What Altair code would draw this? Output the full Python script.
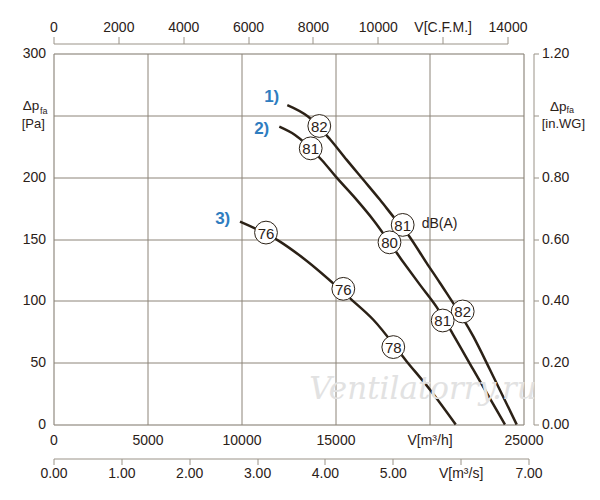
import altair as alt
import pandas as pd

# Curve traces (V in m3/h, dp in Pa)
c1_v = [12436, 13553, 14707, 15596, 16479, 17367, 18074, 18872, 19851, 20559, 22330, 23218, 24638]
c1_p = [258.3, 248.9, 230.7, 214.0, 197.9, 181.7, 168.1, 153.3, 130.5, 114.4, 71.2, 44.3, 0]
c2_v = [12011, 12846, 14266, 15064, 16128, 17011, 18521, 19495, 20383, 21266, 22330, 24016]
c2_p = [240.8, 234.1, 213.9, 199.6, 181.6, 165.4, 133.1, 112.9, 94.9, 72.5, 44.3, 0]
c3_v = [9920, 12048, 13287, 15862, 17011, 18787, 20027, 21394]
c3_p = [164.1, 147.9, 134.5, 100.8, 84.7, 51.0, 28.1, 0]

# Sound level markers
db_curve = ["1", "1", "1", "2", "2", "2", "3", "3", "3"]
db_v = [14138, 18574, 21766, 13681, 17872, 20702, 11303, 15415, 18074]
db_p = [241.4, 161.4, 91.4, 223.3, 147.3, 84.1, 155.2, 109.7, 62.6]
db_txt = ["82", "81", "82", "81", "80", "81", "76", "76", "78"]

# Curve labels
lab_txt = ["1)", "2)", "3)"]
lab_v = [11606, 11074, 9000]
lab_p = [264.5, 238.7, 166.0]

# Axis tick values
x_ticks = [0, 5000, 10000, 15000, 20000, 25000]
y_ticks = [0, 50, 100, 150, 200, 250, 300]
cfm_ticks = [0, 2000, 4000, 6000, 8000, 10000, 12000, 14000]
ms_ticks = [0, 1, 2, 3, 4, 5, 6, 7]
wg_ticks = [0, 0.2, 0.4, 0.6, 0.8, 1.0, 1.2]

DARK = "#2b2116"
GRID = "#8c8478"
AXG = "#9a9388"
TXT = "#2b2118"
BLUE = "#2f7dc0"
FONT = "Liberation Sans"
LBL = dict(labelFont=FONT, labelFontSize=14, labelColor=TXT, labelFlush=False, labelOverlap=False)

rows = []
for name, vs, ps in (("1", c1_v, c1_p), ("2", c2_v, c2_p), ("3", c3_v, c3_p)):
    for v, p in zip(vs, ps):
        rows.append({"curve": name, "V": v, "p": p})
curves_df = pd.DataFrame(rows)
db_df = pd.DataFrame({"curve": db_curve, "V": db_v, "p": db_p, "t": db_txt})
lab_df = pd.DataFrame({"V": lab_v, "p": lab_p, "t": lab_txt})

xs = alt.Scale(domain=[0, 25000], nice=False)
ys = alt.Scale(domain=[0, 300], nice=False)

x_axis = alt.Axis(orient="bottom", values=x_ticks, format="d", grid=True, gridColor=GRID,
                  gridWidth=1, ticks=False, domain=False, labelPadding=9, title=None,
                  labelExpr="datum.value == 20000 ? 'V[m³/h]' : datum.label", **LBL)
y_axis = alt.Axis(orient="left", values=y_ticks, format="d", grid=True, gridColor=GRID,
                  gridWidth=1, ticks=False, domain=False, labelPadding=8, title=None,
                  labelExpr="datum.value == 250 ? '' : datum.label", **LBL)

base = alt.Chart(curves_df)
lines = base.mark_line(color=DARK, strokeWidth=2.5, interpolate="monotone").encode(
    x=alt.X("V:Q", scale=xs, axis=x_axis),
    y=alt.Y("p:Q", scale=ys, axis=y_axis),
    detail="curve:N",
)
circles = alt.Chart(db_df).mark_circle(size=520, fill="white", stroke=DARK, strokeWidth=1, opacity=1).encode(
    x=alt.X("V:Q", scale=xs), y=alt.Y("p:Q", scale=ys))
circ_txt = alt.Chart(db_df).mark_text(fontSize=15, font=FONT, color=TXT, baseline="middle", dy=1).encode(
    x=alt.X("V:Q", scale=xs), y=alt.Y("p:Q", scale=ys), text="t:N")
labels = alt.Chart(lab_df).mark_text(fontSize=17, font=FONT, fontWeight="bold", color=BLUE,
                                     baseline="middle").encode(
    x=alt.X("V:Q", scale=xs), y=alt.Y("p:Q", scale=ys), text="t:N")

# Free annotations (placed in data coordinates)
ann_txt = ["dB(A)", "Δp", "fa", "[Pa]", "Δp", "fa", "[in.WG]"]
ann_v = [19585, -1638, -718, -1691, 26410, 27287, 25968]
ann_p = [162.2, 254.3, 251.1, 239.5, 253.5, 251.9, 239.8]
ann_size = [14, 13.5, 9, 13, 13.5, 9, 13]
ann_base = ["middle", "alphabetic", "alphabetic", "alphabetic", "alphabetic", "alphabetic", "alphabetic"]
ann_df = pd.DataFrame({"V": ann_v, "p": ann_p, "t": ann_txt, "s": ann_size, "b": ann_base})
ann_layers = []
for i in range(len(ann_txt)):
    ann_layers.append(
        alt.Chart(ann_df.iloc[[i]]).mark_text(fontSize=ann_size[i], font=FONT, color=TXT, align="left",
                                              baseline=ann_base[i]).encode(
            x=alt.X("V:Q", scale=xs), y=alt.Y("p:Q", scale=ys), text="t:N"))

wm = alt.Chart(pd.DataFrame({"V": [19654], "p": [28.1], "t": ["Ventilatorry.ru"]})).mark_text(
    fontSize=31, font="DejaVu Serif", fontStyle="italic", color="#e2e2e2", baseline="middle").encode(
    x=alt.X("V:Q", scale=xs), y=alt.Y("p:Q", scale=ys), text="t:N")

main = alt.layer(lines, wm, circles, circ_txt, labels, *ann_layers)

cfm = alt.Chart(pd.DataFrame({"c": cfm_ticks})).mark_point(opacity=0).encode(
    x=alt.X("c:Q", scale=alt.Scale(domain=[0, 14000], range=[0, 454], nice=False),
            axis=alt.Axis(orient="top", offset=10, values=cfm_ticks, format="d", grid=False,
                          tickSize=7, tickColor=AXG, domainColor=AXG, labelPadding=2, title=None,
                          labelExpr="datum.value == 12000 ? 'V[C.F.M.]' : datum.label", **LBL)))
ms = alt.Chart(pd.DataFrame({"m": ms_ticks})).mark_point(opacity=0).encode(
    x=alt.X("m:Q", scale=alt.Scale(domain=[0, 7], range=[0, 475], nice=False),
            axis=alt.Axis(orient="bottom", offset=34, values=ms_ticks, format=".2f", grid=False,
                          tickSize=6, tickColor=AXG, domainColor=AXG, labelPadding=2, title=None,
                          labelExpr="datum.value == 6 ? 'V[m³/s]' : datum.label", **LBL)))
wg = alt.Chart(pd.DataFrame({"w": wg_ticks})).mark_point(opacity=0).encode(
    y=alt.Y("w:Q", scale=alt.Scale(domain=[0, 1.2], nice=False),
            axis=alt.Axis(orient="right", offset=10, values=wg_ticks, format=".2f", grid=False,
                          tickSize=5, tickColor=AXG, domainColor=AXG, labelPadding=3, title=None,
                          labelExpr="datum.value == 1 ? '' : datum.label", **LBL)))

chart = alt.layer(main, cfm, ms, wg).resolve_scale(x="independent", y="independent").properties(
    width=470, height=371,
    autosize=alt.AutoSizeParams(type="none"),
    padding={"left": 45.5, "top": 45.5, "right": 68, "bottom": 65},
).configure_view(stroke=DARK, strokeWidth=3).configure(background="white")

chart.save("out.html", embed_options={"renderer": "svg", "actions": False})
